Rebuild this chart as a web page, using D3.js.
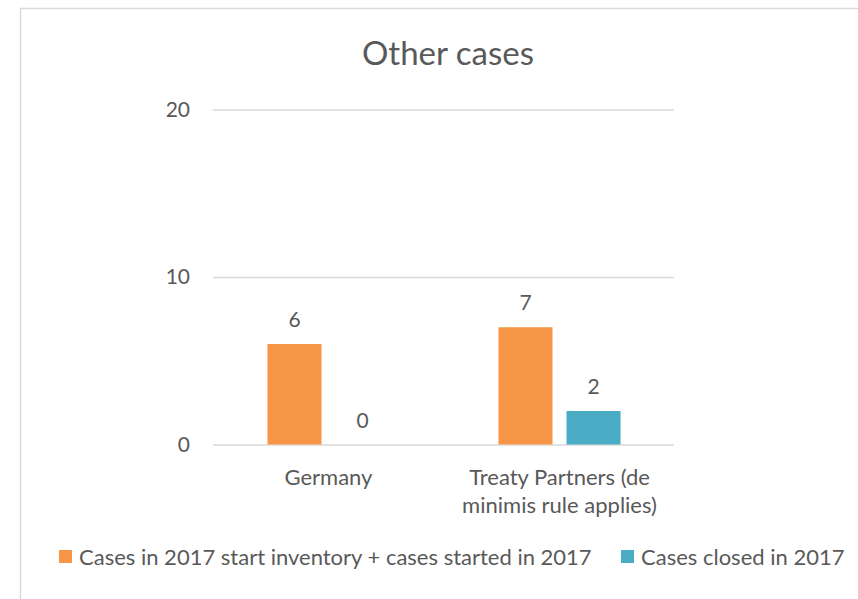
<!DOCTYPE html>
<html>
<head>
<meta charset="utf-8">
<script src="https://cdn.jsdelivr.net/npm/d3@7"></script>
<style>
  body { margin: 0; background: #fff; }
  text { font-family: Lato, "Open Sans", sans-serif; fill: #595959; }
</style>
</head>
<body>
<svg id="chart"></svg>
<script>
// chart data
const categories = ["Germany", "Treaty Partners (de minimis rule applies)"];
const categoryLines = [["Germany"], ["Treaty Partners (de", "minimis rule applies)"]];
const seriesNames = ["Cases in 2017 start inventory + cases started in 2017", "Cases closed in 2017"];
const startedValues = [6, 7];
const closedValues = [0, 2];
const yTicks = [0, 10, 20];
const colors = ["#F79646", "#4BACC6"];

const width = 858, height = 599;
const plot = {left: 213, right: 674, top: 109.5, bottom: 444.5};

const svg = d3.select('#chart')
    .attr('width', width)
    .attr('height', height);

// chart area border (extends past the window on the right and bottom)
svg.append('rect')
    .attr('x', 20.5)
    .attr('y', 8.5)
    .attr('width', 900)
    .attr('height', 700)
    .attr('fill', 'none')
    .attr('stroke', '#d9d9d9')
    .attr('stroke-width', 1.5);

// title
svg.append('text')
    .attr('x', 448)
    .attr('y', 65)
    .attr('text-anchor', 'middle')
    .style('font-size', '33px')
    .text('Other cases');

const yScale = d3.scaleLinear()
    .domain([0, 20])
    .range([plot.bottom, plot.top]);

const x0 = d3.scaleBand()
    .domain(categories)
    .range([plot.left, plot.right + 1])
    .paddingInner(0)
    .paddingOuter(0);

const x1 = d3.scaleBand()
    .domain(seriesNames)
    .range([0, x0.bandwidth()])
    .paddingInner(0.206)
    .paddingOuter(0.8);

// gridlines + labels
const yAxis = d3.axisLeft(yScale)
    .tickValues(yTicks)
    .tickSize(-(plot.right - plot.left))
    .tickPadding(23);

svg.append('g')
    .attr('transform', `translate(${plot.left},0)`)
    .call(yAxis)
    .call(g => g.select('.domain').remove())
    .call(g => g.selectAll('.tick line').attr('stroke', '#d9d9d9').attr('stroke-width', 1.3))
    .call(g => g.selectAll('.tick text')
        .attr('fill', '#595959')
        .style('font-size', '21px')
        .style('font-family', 'Lato, sans-serif'));

const rows = categories.map((c, i) => ({
  category: c,
  values: [
    {series: seriesNames[0], value: startedValues[i], color: colors[0]},
    {series: seriesNames[1], value: closedValues[i], color: colors[1]}
  ]
}));

const groups = svg.selectAll('.group')
    .data(rows)
  .join('g')
    .attr('class', 'group')
    .attr('transform', d => `translate(${x0(d.category)},0)`);

groups.selectAll('rect')
    .data(d => d.values)
  .join('rect')
    .attr('x', d => x1(d.series))
    .attr('width', x1.bandwidth())
    .attr('y', d => yScale(d.value))
    .attr('height', d => yScale(0) - yScale(d.value))
    .attr('fill', d => d.color);

groups.selectAll('.value-label')
    .data(d => d.values)
  .join('text')
    .attr('class', 'value-label')
    .attr('x', d => x1(d.series) + x1.bandwidth() / 2)
    .attr('y', d => yScale(d.value) - 17)
    .attr('text-anchor', 'middle')
    .style('font-size', '21px')
    .text(d => d.value);

// category labels
svg.selectAll('.cat-label')
    .data(categories)
  .join('text')
    .attr('class', 'cat-label')
    .attr('x', d => x0(d) + x0.bandwidth() / 2)
    .attr('y', 485)
    .attr('text-anchor', 'middle')
    .style('font-size', '22px')
    .each(function(d, i) {
      d3.select(this).selectAll('tspan')
        .data(categoryLines[i])
        .join('tspan')
          .attr('x', x0(d) + x0.bandwidth() / 2)
          .attr('dy', (l, j) => j === 0 ? 0 : 28)
          .text(l => l);
    });

// legend
const legendX = [59, 621];
const legend = svg.selectAll('.legend')
    .data(seriesNames)
  .join('g')
    .attr('class', 'legend')
    .attr('transform', (d, i) => `translate(${legendX[i]},550)`);

legend.append('rect')
    .attr('width', 13)
    .attr('height', 13)
    .attr('fill', (d, i) => colors[i]);

legend.append('text')
    .attr('x', 20)
    .attr('y', 14.5)
    .style('font-size', '22px')
    .text(d => d);
</script>
</body>
</html>
